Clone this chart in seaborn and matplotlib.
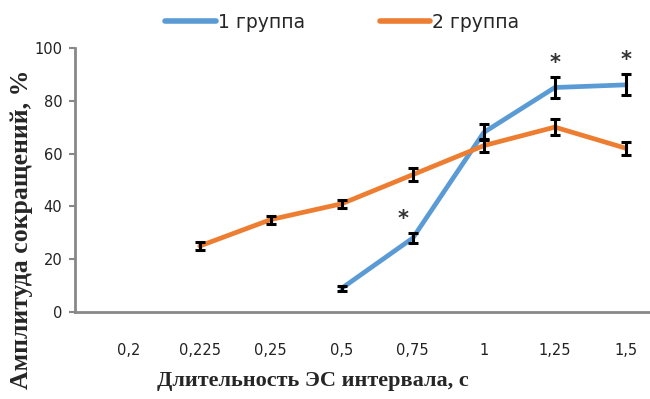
import numpy as np
import pandas as pd
import seaborn as sns
import matplotlib.pyplot as plt

# data
categories = ['0,2', '0,225', '0,25', '0,5', '0,75', '1', '1,25', '1,5']
group1 = [np.nan, np.nan, np.nan, 9, 28, 68, 85, 86]
group1_err = [np.nan, np.nan, np.nan, 1, 2, 3, 4, 4]
group2 = [np.nan, 25, 35, 41, 52, 63, 70, 62]
group2_err = [np.nan, 1.5, 1.5, 1.5, 2.5, 2.5, 3, 2.5]
star_cats = ['0,75', '1,25', '1,5']

blue = '#5b9bd5'
orange = '#ed7d31'

sns.set_style('white')

pos = np.arange(len(categories))
df = pd.DataFrame({
    'pos': np.concatenate([pos, pos]),
    'value': group1 + group2,
    'group': ['1 группа'] * len(pos) + ['2 группа'] * len(pos),
}).dropna()

fig = plt.figure(figsize=(6.5, 3.99), dpi=100)
ax = fig.add_axes([0.115, 0.218, 0.885, 0.662])

sns.lineplot(data=df, x='pos', y='value', hue='group',
             palette=[blue, orange], linewidth=3.4, ax=ax, legend=False)

ax.errorbar(pos, group1, yerr=group1_err, fmt='none', ecolor='black',
            elinewidth=2.2, capsize=3.5, capthick=2.2, zorder=4)
ax.errorbar(pos, group2, yerr=group2_err, fmt='none', ecolor='black',
            elinewidth=2.2, capsize=3.5, capthick=2.2, zorder=4)

# significance marks
for c in star_cats:
    i = categories.index(c)
    y = group1[i] + group1_err[i]
    dx = -0.14 if c == '0,75' else 0
    ax.text(i + dx, y + 1.5, '*', ha='center', va='bottom', fontsize=15,
            fontweight='bold', color='#333333')

ax.set_xlim(-0.76, 7.34)
ax.set_ylim(0, 100)
ax.set_yticks(range(0, 101, 20))
ax.set_xticks(pos)
ax.set_xticklabels(categories)
ax.tick_params(axis='x', length=0, pad=22, labelsize=10.5, colors='#222222')
ax.tick_params(axis='y', length=4, width=1.5, color='#888888', pad=5,
               labelsize=10.5, labelcolor='#222222', left=True)

for s in ['top', 'right']:
    ax.spines[s].set_visible(False)
for s in ['left', 'bottom']:
    ax.spines[s].set_color('#888888')
    ax.spines[s].set_linewidth(2)

ax.set_xlabel('Длительность ЭС интервала, с', fontfamily='Liberation Serif',
              fontweight='bold', fontsize=16)
ax.set_ylabel('Амплитуда сокращений, %', fontfamily='Liberation Serif',
              fontweight='bold', fontsize=18.5)
ax.xaxis.set_label_coords(0.414, -0.225)
ax.yaxis.set_label_coords(-0.072, 0.314)

h1, = ax.plot([], [], color=blue, linewidth=4, label='1 группа')
h2, = ax.plot([], [], color=orange, linewidth=4, label='2 группа')
fig.legend(handles=[h1, h2], loc='upper left', bbox_to_anchor=(0.228, 1.01),
           ncol=2, frameon=False, fontsize=13.5, handlelength=2.7,
           handletextpad=0.1, columnspacing=4.0)

fig.savefig('out.png', dpi=100)
